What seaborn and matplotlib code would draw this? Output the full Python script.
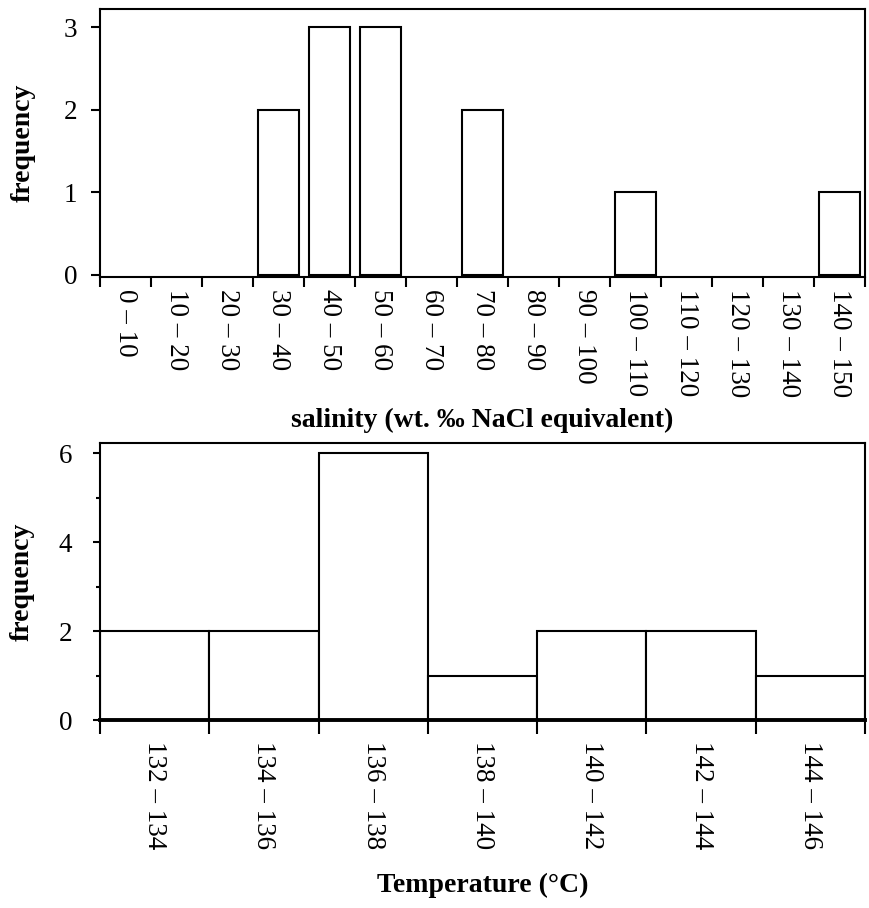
import numpy as np
import matplotlib
matplotlib.use("Agg")
import matplotlib.pyplot as plt
import seaborn as sns

# ---- data ----
sal_labels = ["0 – 10", "10 – 20", "20 – 30", "30 – 40", "40 – 50", "50 – 60",
              "60 – 70", "70 – 80", "80 – 90", "90 – 100", "100 – 110",
              "110 – 120", "120 – 130", "130 – 140", "140 – 150"]
sal_counts = [0, 0, 0, 2, 3, 3, 0, 2, 0, 0, 1, 0, 0, 0, 1]

temp_labels = ["132 – 134", "134 – 136", "136 – 138", "138 – 140",
               "140 – 142", "142 – 144", "144 – 146"]
temp_counts = [2, 2, 6, 1, 2, 2, 1]

sns.set_theme(style="ticks")
plt.rcParams['font.family'] = ['Liberation Serif', 'DejaVu Serif']
plt.rcParams['axes.edgecolor'] = 'black'
plt.rcParams['axes.labelcolor'] = 'black'
plt.rcParams['text.color'] = 'black'
plt.rcParams['xtick.color'] = 'black'
plt.rcParams['ytick.color'] = 'black'
plt.rcParams['xtick.labelcolor'] = 'black'
plt.rcParams['ytick.labelcolor'] = 'black'

fig = plt.figure(figsize=(8.69, 9.08), dpi=100)
W, H = 869, 908
def pos(l, t, r, b):
    return [l / W, 1 - b / H, (r - l) / W, (b - t) / H]

ax1 = fig.add_axes(pos(100, 9, 865, 277))
ax2 = fig.add_axes(pos(100, 443, 865, 720))

TICK_FS = 19.5
LAB_FS = 20

# ---- top: salinity ----
sns.barplot(x=sal_labels, y=sal_counts, ax=ax1, color="white", saturation=1,
            edgecolor="black", linewidth=1.5, width=0.8, order=sal_labels)
for p in ax1.patches:
    if p.get_height() == 0:
        p.set_visible(False)
ax1.set_xlim(-0.5, len(sal_labels) - 0.5)
ax1.set_ylim(-0.025, 3.22)
ax1.set_yticks([0, 1, 2, 3])
ax1.set_yticklabels(["0", "1", "2", "3"], fontsize=TICK_FS)
ax1.set_xticks(np.arange(-0.5, len(sal_labels)), labels=[""] * (len(sal_labels) + 1))
ax1.set_xticks(np.arange(len(sal_labels)), labels=sal_labels, minor=True)
ax1.tick_params(axis='x', which='major', length=7.5, width=1.5, direction='out')
ax1.tick_params(axis='x', which='minor', length=0, pad=8.5, labelsize=TICK_FS,
                labelrotation=270)
ax1.tick_params(axis='y', which='major', length=6.5, width=1.5, direction='out', pad=10)
for s in ax1.spines.values():
    s.set_linewidth(1.5)
    s.set_visible(True)
ax1.set_xlabel("salinity (wt. ‰ NaCl equivalent)", fontsize=LAB_FS,
               fontweight='bold', labelpad=8)
ax1.set_ylabel("frequency", fontsize=LAB_FS, fontweight='bold', labelpad=20)

# ---- bottom: temperature ----
sns.barplot(x=temp_labels, y=temp_counts, ax=ax2, color="white", saturation=1,
            edgecolor="black", linewidth=1.5, width=1.0, order=temp_labels)
ax2.set_xlim(-0.5, len(temp_labels) - 0.5)
ax2.set_ylim(0, 6.23)
ax2.set_yticks([0, 2, 4, 6])
ax2.set_yticklabels(["0", "2", "4", "6"], fontsize=TICK_FS)
ax2.set_yticks([1, 3, 5], minor=True)
ax2.set_xticks(np.arange(-0.5, len(temp_labels)), labels=[""] * (len(temp_labels) + 1))
ax2.set_xticks(np.arange(len(temp_labels)), labels=temp_labels, minor=True)
ax2.tick_params(axis='x', which='major', length=10, width=1.5, direction='out')
ax2.tick_params(axis='x', which='minor', length=0, pad=15, labelsize=TICK_FS,
                labelrotation=270)
ax2.tick_params(axis='y', which='major', length=5, width=1.5, direction='out', pad=15)
ax2.tick_params(axis='y', which='minor', length=3, width=1.5, direction='out')
for s in ax2.spines.values():
    s.set_linewidth(1.5)
    s.set_visible(True)
ax2.spines['bottom'].set_linewidth(2.8)
ax2.set_xlabel("Temperature (°C)", fontsize=LAB_FS, fontweight='bold', labelpad=17)
ax2.set_ylabel("frequency", fontsize=LAB_FS, fontweight='bold', labelpad=17)

fig.savefig("out.png", dpi=100, facecolor="white")
